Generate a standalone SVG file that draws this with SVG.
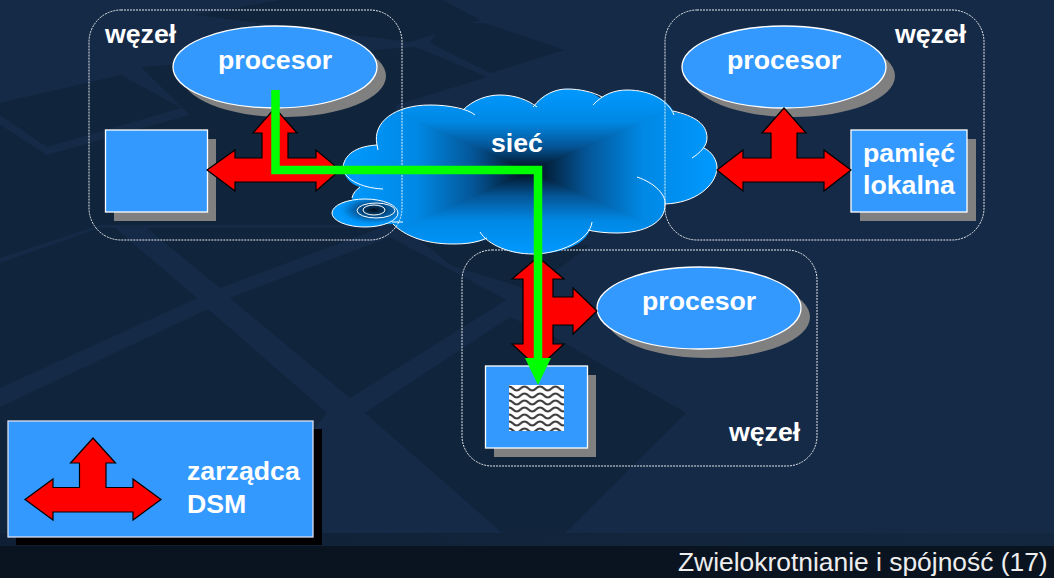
<svg xmlns="http://www.w3.org/2000/svg" width="1054" height="578" viewBox="0 0 1054 578">
<style>
.t{font-family:"Liberation Sans",Arial,sans-serif;font-weight:bold;font-size:26.7px;fill:#fff}
.node{fill:none;stroke:#fff;stroke-width:1;stroke-dasharray:2 1;opacity:.9}
.sh{fill:#808080}
.fl{fill:#3399ff;stroke:#fff;stroke-width:1.3}
.arr{fill:#f00;stroke:#000;stroke-width:1.2;stroke-linejoin:miter}
.gr{fill:none;stroke:#0f0;stroke-width:8.5}
.cl{fill:none;stroke:#fff;stroke-width:1}
.bd{fill:#10243c}
</style>
<defs>
<linearGradient id="gT" gradientUnits="userSpaceOnUse" x1="0" y1="89" x2="0" y2="171"><stop offset="0" stop-color="#0099ff"/><stop offset=".4" stop-color="#0088e4"/><stop offset=".7" stop-color="#045596"/><stop offset="1" stop-color="#020c18"/></linearGradient>
<linearGradient id="gB" gradientUnits="userSpaceOnUse" x1="0" y1="254" x2="0" y2="171"><stop offset="0" stop-color="#0099ff"/><stop offset=".4" stop-color="#0088e4"/><stop offset=".7" stop-color="#045596"/><stop offset="1" stop-color="#020c18"/></linearGradient>
<linearGradient id="gL" gradientUnits="userSpaceOnUse" x1="343" y1="0" x2="530" y2="0"><stop offset="0" stop-color="#0099ff"/><stop offset=".4" stop-color="#0088e4"/><stop offset=".7" stop-color="#045596"/><stop offset="1" stop-color="#020c18"/></linearGradient>
<linearGradient id="gR" gradientUnits="userSpaceOnUse" x1="717" y1="0" x2="530" y2="0"><stop offset="0" stop-color="#0099ff"/><stop offset=".4" stop-color="#0088e4"/><stop offset=".7" stop-color="#045596"/><stop offset="1" stop-color="#020c18"/></linearGradient>
<radialGradient id="gD" gradientUnits="userSpaceOnUse" cx="374" cy="210" r="36" gradientTransform="translate(374 210) scale(1 .42) translate(-374 -210)"><stop offset="0" stop-color="#020c18"/><stop offset=".45" stop-color="#045596"/><stop offset=".85" stop-color="#0090f0"/><stop offset="1" stop-color="#0099ff"/></radialGradient>
<linearGradient id="strip" x1="0" x2="1" y1="0" y2="0"><stop offset="0" stop-color="#0f2036"/><stop offset="1" stop-color="#13283f"/></linearGradient>
<clipPath id="cc"><path d="M343 167C345 152 360 146 377 145C372 122 395 105 430 105C445 105 455 107 463 110C473 100 487 95 500 95C515 95 528 100 534 106C543 94 556 89 567 89C580 89 593 92 600 98C608 93 617 90 627 90C650 90 668 100 674 112C695 116 707 124 707 138C707 143 705 146 704 148C712 152 717 160 717 168C716 186 695 203 665 204C666 222 645 233 617 233C606 233 596 232 590 230C585 245 560 254 533 254C512 254 496 248 487 239C476 243 465 244 453 244C425 244 405 236 393 224C375 226 355 214 352 198C353 193 356 190 360 187C350 184 343 176 343 167Z"/></clipPath>
<pattern id="wv" patternUnits="userSpaceOnUse" x="509" y="385" width="15.500" height="7"><rect width="15.500" height="7" fill="#fff"/><path d="M0 1.500C4 1.500 4 5.500 7.750 5.500C11.500 5.500 11.500 1.500 15.500 1.500" fill="none" stroke="#3c3c3c" stroke-width="2.200"/></pattern>
</defs>

<g id="background">
<rect width="1054" height="578" fill="#152a47"/>
<polygon class="bd" points="195,15 282,0 443,0 480,20 410,42"/>
<polygon class="bd" points="443,23 484,23 564,50 490,73 430,43"/>
<polygon class="bd" points="0,103 121,75 181,108 47,147 0,115"/>
<polygon class="bd" points="0,125 47,155 190,115 141,67 416,47 487,77 396,105 400,225 100,225 0,258"/>
<polygon class="bd" points="0,263 100,228 115,228 197,298 0,388"/>
<polygon class="bd" points="147,228 380,228 220,288"/>
<polygon class="bd" points="0,407 208,309 327,413 305,440 320,533 0,533"/>
<polygon class="bd" points="230,298 390,237 506,300 350,398"/>
<polygon class="bd" points="420,240 590,245 530,290 450,265"/>
<polygon class="bd" points="365,413 510,317 554,337 686,413 565,533 502,533 450,487"/>
<rect y="533" width="1054" height="13" fill="url(#strip)"/>
<rect y="546" width="1054" height="32" fill="#0a1420"/>
</g>

<g id="node-bottom-frame"><rect class="node" x="462" y="250" width="355" height="216" rx="30"/></g>

<g id="cloud">
<g clip-path="url(#cc)">
<polygon points="343,89 717,89 530,172" fill="url(#gT)"/>
<polygon points="343,254 717,254 530,170" fill="url(#gB)"/>
<polygon points="343,89 343,254 531,171" fill="url(#gL)"/>
<polygon points="717,89 717,254 529,171" fill="url(#gR)"/>
</g>
<path class="cl" d="M383 189C360 188 343 178 343 167C345 152 360 146 377 145L378 150M377 145C372 122 395 105 430 105C450 105 468 109 475 115M463 110C473 100 487 95 500 95C515 95 528 100 537 107M533 107C543 94 556 89 567 89C580 89 593 92 602 97M593 105C603 94 615 90 627 90C650 90 668 100 674 115M673 111C695 116 707 124 707 138C707 146 700 153 692 158M704 148C712 152 717 160 717 168C716 186 695 203 665 204M637 177C655 183 666 195 665 204C666 222 645 233 617 233C606 233 596 232 588 230M592 222C590 240 560 254 533 254C510 254 488 245 480 232M487 238C476 243 465 244 453 244C425 244 405 236 393 224M360 187C356 190 353 193 352 198"/>
<text class="t" x="491" y="152">sieć</text>
</g>

<g id="disc">
<ellipse cx="365" cy="213" rx="33" ry="14" fill="url(#gD)" stroke="#fff" stroke-width="1"/>
<ellipse cx="376" cy="210.500" rx="19" ry="7.500" fill="none" stroke="#fff" stroke-width="1"/>
<ellipse cx="374" cy="210" rx="11" ry="5" fill="none" stroke="#fff" stroke-width="1"/>
<path class="cl" d="M392 222L403 222"/>
</g>

<g id="node-left">
<rect class="node" x="89" y="10" width="313" height="230" rx="32"/>
<ellipse class="sh" cx="284" cy="76" rx="102" ry="41"/>
<ellipse class="fl" cx="275" cy="67" rx="102" ry="41"/>
<text class="t" x="218" y="69">procesor</text>
<rect class="sh" x="114" y="139" width="102" height="82"/>
<rect class="fl" x="105.500" y="130" width="102" height="82"/>
<text class="t" x="105" y="43">węzeł</text>
</g>

<g id="node-right">
<rect class="node" x="665" y="10" width="319" height="230" rx="32"/>
<ellipse class="sh" cx="793" cy="76" rx="102" ry="41"/>
<ellipse class="fl" cx="784" cy="67" rx="102" ry="41"/>
<text class="t" x="727" y="69">procesor</text>
<rect class="sh" x="860" y="139" width="116" height="82"/>
<rect class="fl" x="851" y="130" width="116" height="82"/>
<text class="t" x="863" y="162">pamięć</text>
<text class="t" x="863" y="194">lokalna</text>
<text class="t" x="895" y="43">węzeł</text>
</g>

<g id="node-bottom">
<ellipse class="sh" cx="708" cy="317" rx="102" ry="41"/>
<ellipse class="fl" cx="699" cy="308" rx="102" ry="41"/>
<text class="t" x="642" y="310">procesor</text>
<rect class="sh" x="494" y="375" width="102" height="82"/>
<rect class="fl" x="485.500" y="366" width="102" height="82"/>
<rect x="509" y="385" width="55" height="46" fill="url(#wv)"/>
<text class="t" x="729" y="441">węzeł</text>
</g>

<g id="legend">
<rect x="16" y="429" width="306" height="116" fill="#000"/>
<rect x="8" y="421" width="305" height="116" fill="#3399ff" stroke="#dde" stroke-width="1.300"/>
<polygon class="arr" points="25,499.500 53,479 53,487.500 79.500,487.500 79.500,463 70.500,463 93,438 115.500,463 106,463 106,487.500 133,487.500 133,479 161,499.500 133,520 133,512 53,512 53,520"/>
<text class="t" x="187" y="480">zarządca</text>
<text class="t" x="187" y="513">DSM</text>
</g>

<g id="connectors">
<polygon class="arr" points="207,170 235,150 235,158 262,158 262,133 253,133 275,108 297,133 288,133 288,158 316,158 316,150 340,170 316,191 316,182 235,182 235,191"/>
<polygon class="arr" points="717,170 743,150 743,158 771,158 771,133 762,133 784,108 806,133 797,133 797,158 824,158 824,150 851,170 824,191 824,182 743,182 743,191"/>
<polygon class="arr" points="538,257 564,279 553,279 553,297 573,297 573,288 597,311 573,334 573,325 553,325 553,344 564,344 538,368 512,344 523,344 523,279 512,279"/>
<path class="gr" d="M275.500 90V170H538V360"/>
<polygon points="525,358 551,358 538,385" fill="#0f0"/>
</g>

<text id="footer" x="678" y="571" style="font-family:'Liberation Sans',Arial,sans-serif;font-size:26.4px;fill:#eee">Zwielokrotnianie i spójność (17)</text>
</svg>
